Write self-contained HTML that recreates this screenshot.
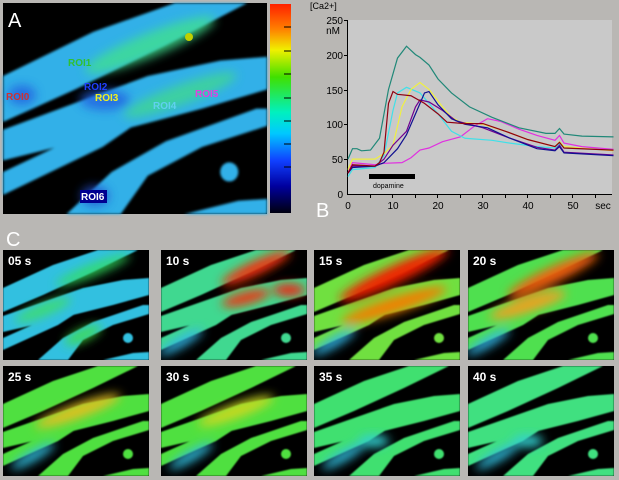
<!DOCTYPE html>
<html><head><meta charset="utf-8"><style>
html,body{margin:0;padding:0;background:#b9b7b4;}
body{width:619px;height:480px;position:relative;overflow:hidden;font-family:"Liberation Sans",sans-serif;}
svg{position:absolute;left:0;top:0;}
</style></head><body>
<svg width="619" height="480" viewBox="0 0 619 480">
<defs>
<filter id="b" x="-20%" y="-20%" width="140%" height="140%"><feGaussianBlur stdDeviation="5"/></filter>
<filter id="s" x="-5%" y="-5%" width="110%" height="110%"><feGaussianBlur stdDeviation="0.7"/></filter>
<linearGradient id="cb" x1="0" y1="0" x2="0" y2="1">
<stop offset="0" stop-color="#ff2000"/><stop offset="0.12" stop-color="#ff8000"/><stop offset="0.22" stop-color="#f0f000"/>
<stop offset="0.35" stop-color="#40e000"/><stop offset="0.52" stop-color="#00f0c0"/><stop offset="0.62" stop-color="#00c8ff"/>
<stop offset="0.75" stop-color="#1040ff"/><stop offset="0.87" stop-color="#0000a0"/><stop offset="1" stop-color="#000010"/>
</linearGradient>
<clipPath id="fc"><rect width="146" height="110"/></clipPath>
<g id="shapes">
<polygon points="0,38 50,15 95,0 135,0 90,22 40,45 0,62"/>
<polygon points="0,66 40,52 80,38 120,30 146,28 146,45 110,55 70,65 30,75 0,82"/>
<polygon points="0,88 45,68 75,62 55,75 0,100"/>
<polygon points="35,110 60,88 90,72 140,55 146,55 146,64 110,75 80,90 65,110"/>
<polygon points="100,110 130,103 146,102 146,110"/>
<circle cx="125" cy="88" r="5"/>
</g>
</defs>

<!-- Panel A -->
<rect x="3" y="3" width="264" height="211" fill="#000"/>
<g transform="translate(3,3) scale(1.81,1.92)" filter="url(#s)">
<use href="#shapes" fill="#30b0e8"/>
</g>
<g filter="url(#b)" opacity="0.8">
<ellipse cx="150" cy="45" rx="70" ry="12" transform="rotate(-22 150 45)" fill="#40e090"/>
<ellipse cx="180" cy="95" rx="60" ry="10" transform="rotate(-20 180 95)" fill="#40d890"/>
<ellipse cx="105" cy="100" rx="25" ry="10" fill="#2060e0"/>
<ellipse cx="22" cy="95" rx="14" ry="10" fill="#2060e0"/>
<ellipse cx="95" cy="196" rx="14" ry="10" fill="#2050d0"/>
</g>
<circle cx="189" cy="37" r="4" fill="#c0d000"/>
<text x="8" y="27" font-size="20" fill="#fff">A</text>
<g font-size="10" font-weight="bold">
<text x="6" y="100" fill="#d03030">ROI0</text>
<text x="68" y="66" fill="#30c030">ROI1</text>
<text x="84" y="90" fill="#2040ff">ROI2</text>
<text x="95" y="101" fill="#f0f020">ROI3</text>
<text x="153" y="109" fill="#60d0f0">ROI4</text>
<text x="195" y="97" fill="#e040e0">ROI5</text>
<rect x="80" y="190" width="27" height="13" fill="#000090"/>
<text x="81" y="200" fill="#fff">ROI6</text>
</g>
<rect x="270" y="4" width="21" height="209" fill="url(#cb)"/>
<g stroke="#000" stroke-width="1">
<line x1="284" y1="27" x2="291" y2="27"/><line x1="284" y1="51" x2="291" y2="51"/><line x1="284" y1="74" x2="291" y2="74"/>
<line x1="284" y1="98" x2="291" y2="98"/><line x1="284" y1="121" x2="291" y2="121"/><line x1="284" y1="144" x2="291" y2="144"/>
<line x1="284" y1="167" x2="291" y2="167"/>
</g>

<!-- Panel B -->
<rect x="348" y="20" width="264" height="174" fill="#c9c9c9"/>
<g stroke="#000" stroke-width="1" fill="none">
<line x1="347.5" y1="20" x2="347.5" y2="195"/><line x1="347" y1="194.5" x2="612" y2="194.5"/>
<line x1="344" y1="20.5" x2="348" y2="20.5"/><line x1="344" y1="55.5" x2="348" y2="55.5"/><line x1="344" y1="90.5" x2="348" y2="90.5"/>
<line x1="344" y1="124.5" x2="348" y2="124.5"/><line x1="344" y1="159.5" x2="348" y2="159.5"/>
<line x1="370.5" y1="194" x2="370.5" y2="198"/><line x1="392.5" y1="194" x2="392.5" y2="198"/><line x1="415.5" y1="194" x2="415.5" y2="198"/>
<line x1="437.5" y1="194" x2="437.5" y2="198"/><line x1="460.5" y1="194" x2="460.5" y2="198"/><line x1="482.5" y1="194" x2="482.5" y2="198"/>
<line x1="505.5" y1="194" x2="505.5" y2="198"/><line x1="527.5" y1="194" x2="527.5" y2="198"/><line x1="550.5" y1="194" x2="550.5" y2="198"/>
<line x1="572.5" y1="194" x2="572.5" y2="198"/><line x1="595.5" y1="194" x2="595.5" y2="198"/>
</g>
<g font-size="10" fill="#000" text-anchor="end">
<text x="343" y="24">250</text><text x="340" y="34">nM</text>
<text x="343" y="59">200</text><text x="343" y="94">150</text><text x="343" y="128">100</text>
<text x="343" y="163">50</text><text x="343" y="198">0</text>
</g>
<text x="310" y="9" font-size="9">[Ca2+]</text>
<g font-size="10" text-anchor="middle">
<text x="348" y="209">0</text><text x="393" y="209">10</text><text x="438" y="209">20</text>
<text x="483" y="209">30</text><text x="528" y="209">40</text><text x="573" y="209">50</text>
<text x="603" y="209">sec</text>
</g>
<text x="316" y="217" font-size="20" fill="#fff">B</text>
<rect x="369" y="174" width="46" height="5" fill="#000"/>
<text x="373" y="188" font-size="7">dopamine</text>
<g transform="translate(348,194) scale(4.5,-0.697)" fill="none" stroke-width="1.2">
<polyline vector-effect="non-scaling-stroke" stroke="#e030e0" points="0,30 1,45 6,42 8,44 12,45 14,52 16,63 18,66 21,75 25,82 28,97 31,108 34,104 38,93 42,84 46,77 47,84 48,73 52,68 59,64"/>
<polyline vector-effect="non-scaling-stroke" stroke="#40e0e8" points="0,25 1,35 6,38 8,55 10,120 11,145 13,153 16,145 20,115 23,90 26,80 32,77 36,73 42,68 46,66 47,72 48,66 59,63"/>
<polyline vector-effect="non-scaling-stroke" stroke="#f0f040" points="0,35 1,50 6,50 8,58 10,70 12,125 14,150 16,160 18,150 21,125 23,110 25,103 30,100 35,90 40,78 46,68 47,75 48,68 59,62"/>
<polyline vector-effect="non-scaling-stroke" stroke="#700090" points="0,30 1,40 6,40 8,50 10,70 13,90 15,125 16,135 18,132 21,120 24,105 30,95 36,80 42,67 46,63 47,70 48,60 59,56"/>
<polyline vector-effect="non-scaling-stroke" stroke="#101090" points="0,30 1,38 6,40 8,45 11,65 13,85 15,115 17,145 18,147 20,128 23,108 26,100 31,95 36,80 42,65 46,62 47,68 48,59 59,55"/>
<polyline vector-effect="non-scaling-stroke" stroke="#900010" points="0,30 1,42 6,40 7,45 8,60 9,130 10,147 11,143 14,141 17,130 20,115 22,103 26,101 30,101 35,90 40,78 46,68 47,74 48,66 59,63"/>
<polyline vector-effect="non-scaling-stroke" stroke="#208878" points="0,50 1,65 2,65 3,62 5,63 7,80 9,150 11,195 13,212 15,200 16,196 18,185 20,165 23,145 27,125 32,110 38,95 44,87 46,87 47,94 48,86 52,83 59,82"/>
</g>

<text x="6" y="246" font-size="20" fill="#fff">C</text>

<!-- Frames -->
<g transform="translate(3,250)" clip-path="url(#fc)"><rect width="146" height="110"/><use href="#shapes" fill="#30c0e0" filter="url(#s)"/>
<g filter="url(#b)" opacity="0.85"><ellipse cx="90" cy="20" rx="40" ry="6" transform="rotate(-22 90 20)" fill="#30e060"/><ellipse cx="40" cy="60" rx="30" ry="6" transform="rotate(-22 40 60)" fill="#40e060"/><ellipse cx="80" cy="85" rx="20" ry="6" transform="rotate(-25 80 85)" fill="#40e040"/></g>
<text x="5" y="15" font-size="12" font-weight="bold" fill="#fff">05 s</text></g>

<g transform="translate(161,250)" clip-path="url(#fc)"><rect width="146" height="110"/><use href="#shapes" fill="#40d890" filter="url(#s)"/>
<g filter="url(#b)"><ellipse cx="95" cy="18" rx="38" ry="7" transform="rotate(-25 95 18)" fill="#f03010"/><ellipse cx="85" cy="48" rx="25" ry="6" transform="rotate(-15 85 48)" fill="#f03010"/><ellipse cx="128" cy="40" rx="16" ry="6" fill="#f02010"/><ellipse cx="20" cy="92" rx="25" ry="5" transform="rotate(-30 20 92)" fill="#30b8e8"/></g>
<text x="5" y="15" font-size="12" font-weight="bold" fill="#fff">10 s</text></g>

<g transform="translate(314,250)" clip-path="url(#fc)"><rect width="146" height="110"/><use href="#shapes" fill="#70e040" filter="url(#s)"/>
<g filter="url(#b)"><ellipse cx="80" cy="25" rx="60" ry="9" transform="rotate(-25 80 25)" fill="#f02000"/><ellipse cx="80" cy="55" rx="55" ry="8" transform="rotate(-18 80 55)" fill="#f08000"/><ellipse cx="20" cy="92" rx="25" ry="5" transform="rotate(-30 20 92)" fill="#30b8e8"/></g>
<text x="5" y="15" font-size="12" font-weight="bold" fill="#fff">15 s</text></g>

<g transform="translate(468,250)" clip-path="url(#fc)"><rect width="146" height="110"/><use href="#shapes" fill="#50e050" filter="url(#s)"/>
<g filter="url(#b)"><ellipse cx="85" cy="25" rx="50" ry="8" transform="rotate(-25 85 25)" fill="#f06010"/><ellipse cx="60" cy="55" rx="40" ry="7" transform="rotate(-18 60 55)" fill="#f0a020"/><ellipse cx="20" cy="92" rx="25" ry="5" transform="rotate(-30 20 92)" fill="#30b8e8"/></g>
<text x="5" y="15" font-size="12" font-weight="bold" fill="#fff">20 s</text></g>

<g transform="translate(3,366)" clip-path="url(#fc)"><rect width="146" height="110"/><use href="#shapes" fill="#50e040" filter="url(#s)"/>
<g filter="url(#b)"><ellipse cx="75" cy="45" rx="45" ry="7" transform="rotate(-20 75 45)" fill="#e0c020"/><ellipse cx="30" cy="90" rx="25" ry="5" transform="rotate(-30 30 90)" fill="#30c0e0"/></g>
<text x="5" y="15" font-size="12" font-weight="bold" fill="#fff">25 s</text></g>

<g transform="translate(161,366)" clip-path="url(#fc)"><rect width="146" height="110"/><use href="#shapes" fill="#50e040" filter="url(#s)"/>
<g filter="url(#b)"><ellipse cx="75" cy="45" rx="40" ry="7" transform="rotate(-20 75 45)" fill="#c8d820"/><ellipse cx="30" cy="90" rx="25" ry="5" transform="rotate(-30 30 90)" fill="#30c0e0"/></g>
<text x="5" y="15" font-size="12" font-weight="bold" fill="#fff">30 s</text></g>

<g transform="translate(314,366)" clip-path="url(#fc)"><rect width="146" height="110"/><use href="#shapes" fill="#40e070" filter="url(#s)"/>
<g filter="url(#b)"><ellipse cx="30" cy="90" rx="25" ry="5" transform="rotate(-30 30 90)" fill="#30c0e0"/><ellipse cx="60" cy="75" rx="15" ry="6" fill="#30d0d0"/></g>
<text x="5" y="15" font-size="12" font-weight="bold" fill="#fff">35 s</text></g>

<g transform="translate(468,366)" clip-path="url(#fc)"><rect width="146" height="110"/><use href="#shapes" fill="#40e080" filter="url(#s)"/>
<g filter="url(#b)"><ellipse cx="30" cy="90" rx="25" ry="5" transform="rotate(-30 30 90)" fill="#30c0e0"/><ellipse cx="60" cy="75" rx="15" ry="6" fill="#30d0d0"/></g>
<text x="5" y="15" font-size="12" font-weight="bold" fill="#fff">40 s</text></g>
</svg>
</body></html>
